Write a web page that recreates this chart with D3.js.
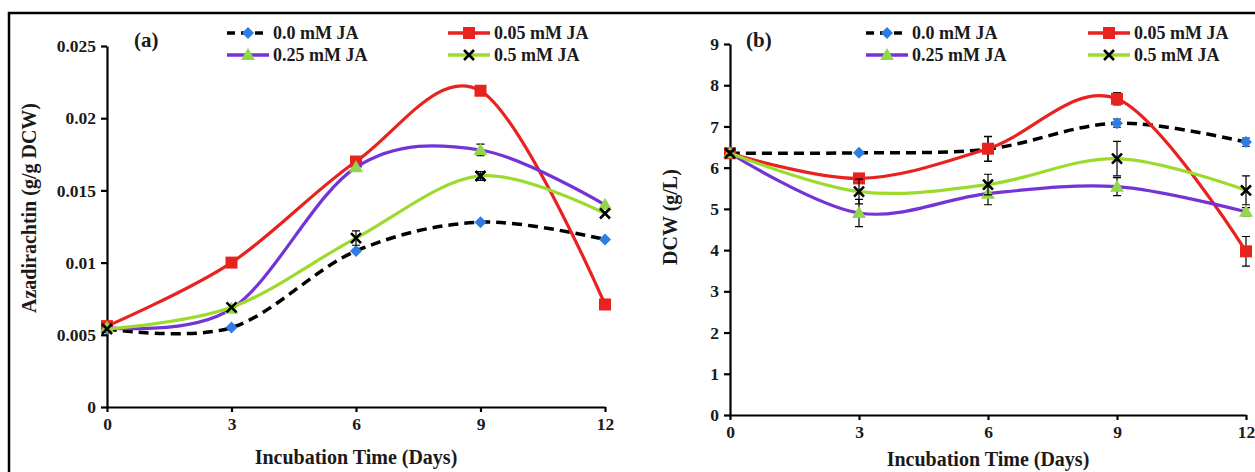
<!DOCTYPE html>
<html>
<head>
<meta charset="utf-8">
<script src="https://cdn.jsdelivr.net/npm/d3@7/dist/d3.min.js"></script>
<style>
  body { margin: 0; background: #fff; }
  text { font-family: "Liberation Serif", "Times New Roman", serif; font-weight: bold; fill: #1a1a1a; }
</style>
</head>
<body>
<script>
// data
var days = [0, 3, 6, 9, 12]
var seriesNames = ["0.0 mM JA", "0.05 mM JA", "0.25 mM JA", "0.5 mM JA"]

// (a) azadirachtin, g/g DCW
var azaControl = [0.0054, 0.0055, 0.0108, 0.0128, 0.0116]
var aza005 = [0.0056, 0.0100, 0.0170, 0.0219, 0.0071]
var aza025 = [0.0055, 0.0068, 0.0166, 0.0178, 0.0140]
var aza05 = [0.0054, 0.0069, 0.0117, 0.0160, 0.0134]
var azaControlErr = [0, 0, 0, 0, 0]
var aza005Err = [0, 0, 0, 0, 0]
var aza025Err = [0, 0, 0, 0.0004, 0]
var aza05Err = [0, 0, 0.0005, 0.0003, 0]
var azaTicks = [0, 0.005, 0.01, 0.015, 0.02, 0.025]
var azaTickLabels = ["0", "0.005", "0.01", "0.015", "0.02", "0.025"]

// (b) dry cell weight, g/L
var dcwControl = [6.35, 6.36, 6.45, 7.08, 6.62]
var dcw005 = [6.35, 5.74, 6.46, 7.67, 3.97]
var dcw025 = [6.35, 4.90, 5.37, 5.54, 4.93]
var dcw05 = [6.35, 5.42, 5.59, 6.22, 5.45]
var dcwControlErr = [0, 0, 0.3, 0.1, 0.1]
var dcw005Err = [0, 0, 0.3, 0.15, 0.36]
var dcw025Err = [0, 0.33, 0.27, 0.22, 0.1]
var dcw05Err = [0.05, 0.3, 0.25, 0.42, 0.35]
var dcwTicks = [0, 1, 2, 3, 4, 5, 6, 7, 8, 9]

var W = 1255, H = 472

var svg = d3.select("body").append("svg")
    .attr("width", W)
    .attr("height", H)

// outer frame
svg.append("path")
    .attr("d", "M9,480 L9,13 L1260,13")
    .attr("fill", "none")
    .attr("stroke", "#000")
    .attr("stroke-width", 2.5)

var styles = [
    {line: "#000", dash: "10,6", marker: "diamond", fill: "#2f7de4"},
    {line: "#e8221f", dash: null, marker: "square", fill: "#e8221f"},
    {line: "#7433d6", dash: null, marker: "triangle", fill: "#92d64a"},
    {line: "#9cdb2e", dash: null, marker: "cross", fill: "#000"}
]

function drawMarker(g, type, x, y, fill) {
    if (type == "diamond") {
        g.append("path").attr("d", "M" + x + "," + (y - 6) + " l6,6 l-6,6 l-6,-6 z").attr("fill", fill)
    } else if (type == "square") {
        g.append("rect").attr("x", x - 6).attr("y", y - 6).attr("width", 12).attr("height", 12).attr("fill", fill)
    } else if (type == "triangle") {
        g.append("path").attr("d", "M" + x + "," + (y - 7) + " l7,12 l-14,0 z").attr("fill", fill)
    } else {
        g.append("path").attr("d", "M" + (x - 5) + "," + (y - 5) + " l10,10 M" + (x + 5) + "," + (y - 5) + " l-10,10")
            .attr("stroke", fill).attr("stroke-width", 2.6)
    }
}

function drawPanel(p) {
    var x = d3.scaleLinear().domain([0, 12]).range([p.x0, p.x1])
    var y = d3.scaleLinear().domain([0, p.ymax]).range([p.y0, p.y1])

    var g = svg.append("g")

    // axes
    g.append("g")
        .attr("transform", "translate(" + p.x0 + ",0)")
        .call(d3.axisLeft(y).tickValues(p.ticks).tickFormat((d, i) => p.tickLabels[i]).tickSize(6).tickSizeOuter(0).tickPadding(5))
    g.append("g")
        .attr("transform", "translate(0," + p.y0 + ")")
        .call(d3.axisBottom(x).tickValues(days).tickFormat(d3.format("d")).tickSize(5).tickSizeOuter(0).tickPadding(6))
    g.selectAll(".domain, .tick line").attr("stroke", "#000").attr("stroke-width", 2.2)
    g.selectAll(".tick text").style("font-size", "17.5px").style("font-family", "Liberation Serif").style("font-weight", "bold").attr("fill", "#1a1a1a")

    // axis titles
    g.append("text")
        .attr("x", (p.x0 + p.x1) / 2).attr("y", p.xTitleY)
        .attr("text-anchor", "middle").style("font-size", "20px")
        .text("Incubation Time (Days)")
    g.append("text")
        .attr("transform", "translate(" + p.yTitleX + "," + p.yTitleY + ") rotate(-90)")
        .attr("text-anchor", "middle").style("font-size", "20px")
        .text(p.yTitle)

    // panel letter
    g.append("text").attr("x", p.letterX).attr("y", 47).style("font-size", "21px").text(p.letter)

    var line = d3.line()
        .x((d) => {return x(d.day)})
        .y((d) => {return y(d.v)})
        .curve(d3.curveCardinal.tension(0))

    p.series.forEach((vals, si) => {
        var st = styles[si]
        var pts = days.map((d, i) => {return {day: d, v: vals[i], e: p.errs[si][i]}})
        var sg = g.append("g")
        sg.append("path")
            .attr("d", line(pts))
            .attr("fill", "none")
            .attr("stroke", st.line)
            .attr("stroke-width", si == 0 ? 3.5 : 3.2)
            .attr("stroke-dasharray", st.dash)
        pts.forEach((d) => {
            if (d.e > 0) {
                var cx = x(d.day), top = y(d.v + d.e), bot = y(d.v - d.e)
                sg.append("path")
                    .attr("d", "M" + cx + "," + top + " L" + cx + "," + bot + " M" + (cx - 4) + "," + top + " l8,0 M" + (cx - 4) + "," + bot + " l8,0")
                    .attr("stroke", "#000").attr("stroke-width", 1.2).attr("fill", "none")
            }
            drawMarker(sg, st.marker, x(d.day), y(d.v), st.fill)
        })
    })

    // legend
    var legend = g.append("g")
    seriesNames.forEach((name, i) => {
        var lx = p.legX[i % 2], ly = i < 2 ? 33 : 55
        var st = styles[i]
        legend.append("line")
            .attr("x1", lx).attr("x2", lx + 42).attr("y1", ly).attr("y2", ly)
            .attr("stroke", st.line).attr("stroke-width", 3.5)
            .attr("stroke-dasharray", i == 0 ? "8,6" : null)
        drawMarker(legend, st.marker, lx + 21, ly, st.fill)
        legend.append("text")
            .attr("x", lx + 46).attr("y", ly + 6)
            .style("font-size", "18px")
            .text(name)
    })
}

drawPanel({
    x0: 107, x1: 605, y0: 407, y1: 46, ymax: 0.025,
    ticks: azaTicks, tickLabels: azaTickLabels,
    series: [azaControl, aza005, aza025, aza05],
    errs: [azaControlErr, aza005Err, aza025Err, aza05Err],
    yTitle: "Azadirachtin (g/g DCW)", yTitleX: 36, yTitleY: 208,
    xTitleY: 464, letter: "(a)", letterX: 134,
    legX: [227, 448]
})

drawPanel({
    x0: 730, x1: 1246, y0: 415, y1: 44, ymax: 9,
    ticks: dcwTicks, tickLabels: dcwTicks.map(String),
    series: [dcwControl, dcw005, dcw025, dcw05],
    errs: [dcwControlErr, dcw005Err, dcw025Err, dcw05Err],
    yTitle: "DCW (g/L)", yTitleX: 677, yTitleY: 217,
    xTitleY: 466, letter: "(b)", letterX: 746,
    legX: [866, 1088]
})
</script>
</body>
</html>
